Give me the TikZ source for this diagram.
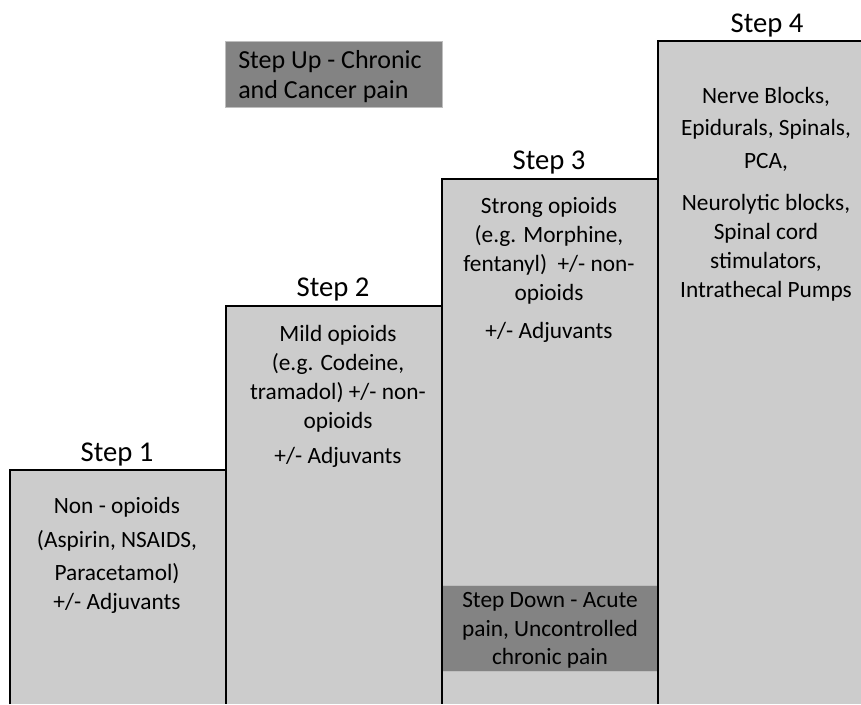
\documentclass[tikz,border=0pt]{standalone}
\usepackage{fontspec}
\setmainfont{Carlito}
\definecolor{stepfill}{RGB}{204,204,204}
\definecolor{notefill}{RGB}{131,131,131}
\definecolor{noteline}{RGB}{190,190,190}
\begin{document}
\begin{tikzpicture}[x=0.75pt,y=-0.75pt,
  body/.style={font=\fontsize{17.5}{21.75}\selectfont, align=center, inner sep=0pt, anchor=north, text=black},
  notetext/.style={body},
  steplabel/.style={font=\fontsize{21.5}{24}\selectfont, anchor=base, inner sep=0pt, text=black},
  border/.style={line width=1.6pt, black},
  note/.style={fill=notefill, draw=noteline, line width=0.6pt}]
\useasboundingbox (0,0) rectangle (861,704);
% step fills
\fill[stepfill] (10,470) rectangle (226,704);
\fill[stepfill] (226,306) rectangle (442,704);
\fill[stepfill] (442,179) rectangle (658,704);
\fill[stepfill] (658,41) rectangle (861,704);
% notes
\draw[note] (225,41) rectangle (442,107);
\draw[note] (442,585) rectangle (658,671);
% borders
\draw[border] (10,704) -- (10,470) -- (226,470) -- (226,704);
\draw[border] (226,470) -- (226,306) -- (442,306) -- (442,704);
\draw[border] (442,306) -- (442,179) -- (658,179) -- (658,704);
\draw[border] (658,179) -- (658,41) -- (861,41);
% step labels
\node[steplabel] (s1) at (117,461) {Step 1};
\node[steplabel] (s2) at (333,296) {Step 2};
\node[steplabel] (s3) at (549,169) {Step 3};
\node[steplabel] (s4) at (767,32) {Step 4};
% bodies
\node[body] (t1) at (117,492.7) {\strut Non - opioids\\[3.75pt] (Aspirin, NSAIDS,\\[3pt] Paracetamol)\\ +/- Adjuvants};
\node[body] (t2) at (338,320.7) {\strut Mild opioids\\ (e.g. Codeine,\\ tramadol) +/- non-\\ opioids\\[4.5pt] +/- Adjuvants};
\node[body] (t3) at (549,192.7) {\strut Strong opioids\\ (e.g. Morphine,\\ fentanyl)\ \ +/- non-\\ opioids\\[6.75pt] +/- Adjuvants};
\node[body] (t4) at (766,82.7) {\strut Nerve Blocks,\\[2.25pt] Epidurals, Spinals,\\[3pt] PCA,\\[9.75pt] Neurolytic blocks,\\ Spinal cord\\ stimulators,\\ Intrathecal Pumps};
\node[notetext, font=\fontsize{19.5}{22.5}\selectfont, align=left, anchor=north west] (up) at (238,47.7) {\strut Step Up - Chronic\\ and Cancer pain};
\node[notetext] (down) at (550,586.7) {\strut Step Down - Acute\\ pain, Uncontrolled\\[-0.75pt] chronic pain};
\end{tikzpicture}
\end{document}
